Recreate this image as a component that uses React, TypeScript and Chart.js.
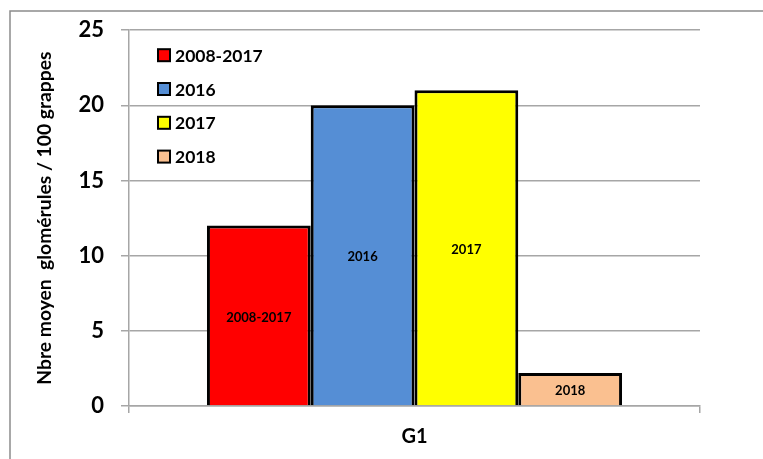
import React, { useEffect, useRef } from "react";
import { Chart, registerables } from "chart.js";

Chart.register(...registerables);

const categories = ["G1"];
const seriesNames = ["2008-2017", "2016", "2017", "2018"];
const seriesValues = [[12], [20], [21], [2.2]];
const seriesColors = ["#FF0000", "#558ED5", "#FFFF00", "#FAC090"];
const yTicks = { min: 0, max: 25, step: 5 };
const yTitle = "Nbre moyen  glomérules / 100 grappes";

const FONT = "Lato, 'Open Sans', sans-serif";
const GRID = "#a6a6a6";

const framePlugin = {
  id: "frame",
  beforeDraw(chart: any) {
    const { ctx, width, height } = chart;
    ctx.save();
    ctx.fillStyle = "#fff";
    ctx.fillRect(0, 0, width, height);
    ctx.strokeStyle = "#8c8c8c";
    ctx.lineWidth = 1.5;
    ctx.beginPath();
    ctx.moveTo(10, height);
    ctx.lineTo(10, 11);
    ctx.lineTo(width, 11);
    ctx.stroke();
    ctx.restore();
  },
};

const barLabelPlugin = {
  id: "barLabels",
  afterDatasetsDraw(chart: any) {
    const { ctx } = chart;
    ctx.save();
    ctx.font = `bold 13px ${FONT}`;
    ctx.fillStyle = "#000";
    ctx.textAlign = "center";
    ctx.textBaseline = "middle";
    chart.data.datasets.forEach((ds: any, i: number) => {
      const meta = chart.getDatasetMeta(i);
      meta.data.forEach((bar: any) => {
        const p = bar.getProps(["x", "y", "base"], true);
        ctx.fillText(ds.label, p.x, (p.y + p.base) / 2 + 2);
      });
    });
    ctx.restore();
  },
};

const legendPlugin = {
  id: "customLegend",
  afterDraw(chart: any) {
    const { ctx, chartArea } = chart;
    ctx.save();
    ctx.font = `bold 17.5px ${FONT}`;
    ctx.textBaseline = "middle";
    ctx.textAlign = "left";
    chart.data.datasets.forEach((ds: any, i: number) => {
      const x = chartArea.left + 29;
      const y = chartArea.top + 25 + i * 33.8;
      ctx.fillStyle = ds.backgroundColor;
      ctx.fillRect(x, y - 6, 12, 12);
      ctx.strokeStyle = "#000";
      ctx.lineWidth = 2;
      ctx.strokeRect(x, y - 6, 12, 12);
      ctx.fillStyle = "#000";
      ctx.fillText(ds.label, x + 17, y + 1);
    });
    ctx.restore();
  },
};

export default function App() {
  const ref = useRef<HTMLCanvasElement>(null);

  useEffect(() => {
    document.body.style.margin = "0";
    const chart = new Chart(ref.current!, {
      type: "bar",
      data: {
        labels: categories,
        datasets: seriesNames.map((name, i) => ({
          label: name,
          data: seriesValues[i],
          backgroundColor: seriesColors[i],
          borderColor: "#000",
          borderWidth: 3,
          categoryPercentage: 0.727,
          barPercentage: 1,
        })),
      },
      options: {
        animation: false,
        responsive: false,
        layout: { padding: { top: 29, right: 63, left: 0, bottom: 0 } },
        plugins: {
          legend: { display: false },
          tooltip: { enabled: false },
        },
        scales: {
          x: {
            grid: {
              offset: true,
              drawOnChartArea: false,
              drawTicks: true,
              tickLength: 7,
              color: GRID,
              lineWidth: 1.5,
            },
            border: { color: GRID, width: 1.5 },
            ticks: {
              color: "#000",
              font: { family: FONT, size: 20, weight: "bold" },
              padding: 12,
            },
            afterFit: (s: any) => {
              s.height = 53;
            },
          },
          y: {
            min: yTicks.min,
            max: yTicks.max,
            ticks: {
              stepSize: yTicks.step,
              color: "#000",
              font: { family: FONT, size: 22, weight: "bold" },
              padding: 17,
            },
            grid: {
              color: GRID,
              lineWidth: 1.5,
              tickLength: 8,
              drawTicks: true,
            },
            border: { color: GRID, width: 1.5 },
            title: {
              display: true,
              text: yTitle,
              color: "#000",
              font: { family: FONT, size: 19.3, weight: "bold" },
              padding: { top: 33, bottom: 0 },
            },
            afterFit: (s: any) => {
              s.width = 129;
            },
          },
        },
      },
      plugins: [framePlugin, barLabelPlugin, legendPlugin],
    });
    return () => chart.destroy();
  }, []);

  return (
    <div style={{ width: 763, height: 459 }}>
      <canvas ref={ref} width={763} height={459} style={{ display: "block" }} />
    </div>
  );
}
